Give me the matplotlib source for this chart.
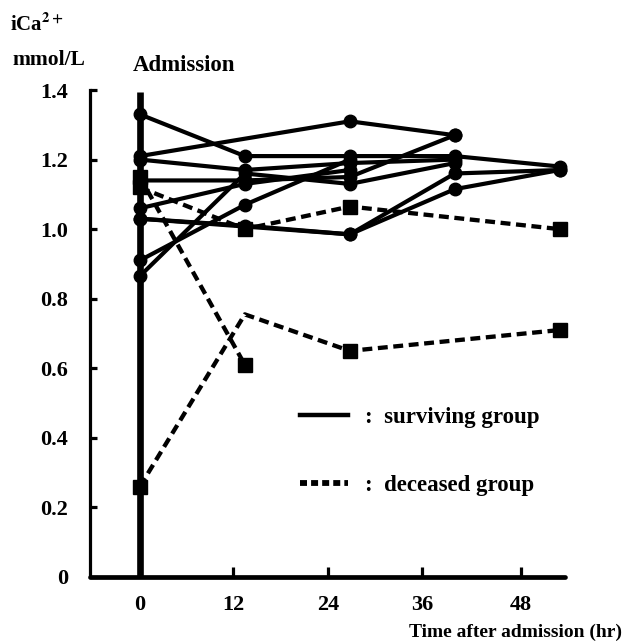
import numpy as np
import matplotlib
matplotlib.use("Agg")
import matplotlib.pyplot as plt
from matplotlib.lines import Line2D

plt.rcParams['font.family'] = ['Liberation Serif', 'DejaVu Serif']
plt.rcParams['font.weight'] = 'bold'
plt.rcParams['mathtext.fontset'] = 'stix'

# sampling times (hr after admission)
hours = np.array([0, 12, 24, 36, 48])

# surviving group, iCa2+ (mmol/L); nan = not measured
surviving = [
    [1.33, 1.21, 1.21, 1.21, 1.18],
    [1.21, np.nan, 1.31, 1.27, np.nan],
    [1.20, 1.17, 1.19, 1.20, np.nan],
    [1.14, 1.14, 1.15, 1.27, np.nan],
    [1.06, 1.13, 1.17, np.nan, np.nan],
    [1.03, 1.01, 0.985, 1.115, 1.17],
    [1.03, np.nan, 0.985, 1.16, 1.17],
    [0.91, 1.07, 1.20, np.nan, np.nan],
    [0.865, 1.16, 1.13, 1.19, np.nan],
]

# deceased group
deceased = [
    [1.15, 0.61, np.nan, np.nan, np.nan],
    [1.12, 1.00, 1.065, np.nan, 1.00],
    [0.26, 0.755, 0.65, np.nan, 0.71],
]
# the 12 hr point of the last deceased patient has no marker in the original
deceased_marked = [
    [True, True, True, True, True],
    [True, True, True, True, True],
    [True, False, True, True, True],
]

tick_labels = ['0', '12', '24', '36', '48']
tick_pos = [0, 10.7, 21.5, 32.3, 43.6]
ytick_vals = [0, 0.2, 0.4, 0.6, 0.8, 1.0, 1.2, 1.4]
ytick_labels = ['0', '0.2', '0.4', '0.6', '0.8', '1.0', '1.2', '1.4']

W, H = 626, 641
fig = plt.figure(figsize=(W / 100, H / 100), dpi=100)
ax = fig.add_axes([90 / W, 64 / H, (565 - 90) / W, (577 - 90) / H])

for s in surviving:
    s = np.array(s)
    m = ~np.isnan(s)
    ax.plot(hours[m], s[m], color='black', lw=3.0, marker='o', ms=9,
            clip_on=False, solid_capstyle='round', zorder=3)

for s, mk in zip(deceased, deceased_marked):
    s = np.array(s)
    m = ~np.isnan(s)
    ax.plot(hours[m], s[m], color='black', lw=3.1, ls=(0, (2.3, 1.3)),
            clip_on=False, zorder=3)
    mm = m & np.array(mk)
    ax.plot(hours[mm], s[mm], color='black', ls='none', marker='s', ms=9.5,
            clip_on=False, zorder=4)

# admission line
ax.vlines(0, 0, 1.395, color='black', lw=4.8, zorder=5)
ax.text(-0.8, 1.44, 'Admission', fontsize=16.5, fontweight='bold',
        ha='left', va='bottom')

ax.set_xlim(-5.7, 48.6)
ax.set_ylim(0, 1.4)
ax.spines['top'].set_visible(False)
ax.spines['right'].set_visible(False)
ax.spines['left'].set_linewidth(2.3)
ax.spines['bottom'].set_linewidth(3.4)
ax.spines['left'].set_capstyle('projecting')
ax.spines['bottom'].set_capstyle('round')

ax.set_xticks(tick_pos)
ax.set_xticklabels(tick_labels, fontsize=16)
ax.set_yticks(ytick_vals)
ax.set_yticklabels(ytick_labels, fontsize=16)
ax.tick_params(axis='x', direction='in', length=7, width=2.3, pad=13)
ax.tick_params(axis='y', direction='in', length=5, width=2.3, pad=16)

fig.text(10 / W, 1 - 25 / H, r'iCa$^{2+}$', fontsize=15, fontweight='bold',
         ha='left', va='center')
fig.text(12 / W, 1 - 60 / H, 'mmol/L', fontsize=15.5, fontweight='bold',
         ha='left', va='center')
fig.text(622 / W, 1 - 632 / H, 'Time after admission (hr)', fontsize=14,
         fontweight='bold', ha='right', va='center')

handles = [
    Line2D([], [], color='black', lw=3.2),
    Line2D([], [], color='black', lw=4.2, ls=(0, (1.2, 0.7))),
]
ax.legend(handles, [':  surviving group', ':  deceased group'],
          loc='upper left', bbox_to_anchor=(0.442, 0.3495), frameon=False,
          fontsize=16.5, handlelength=2.1, handletextpad=0.75,
          labelspacing=2.04, borderpad=0, borderaxespad=0)

fig.savefig('out.png', dpi=100)
